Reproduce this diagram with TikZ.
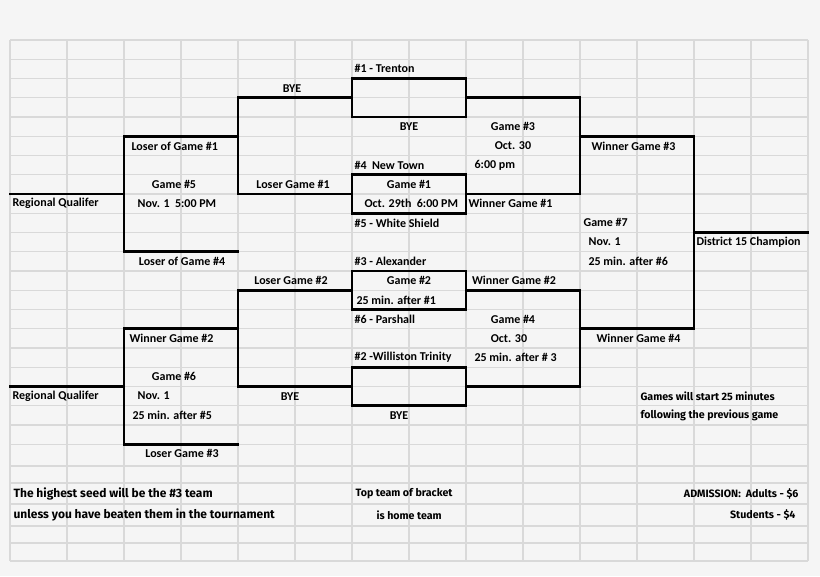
\documentclass[tikz,border=0pt]{standalone}
\usepackage{fontspec}
\setmainfont{Carlito}
\newfontfamily\handfont{Fira Sans}
\newcommand\ry[1]{{40+19.25*(#1)}}
\newcommand\rc[1]{{40+19.25*(#1+0.5)}}
\begin{document}
\begin{tikzpicture}[x=0.75pt,y=-0.75pt,
    brk/.style={line width=2.2pt,line cap=rect},
    lbl/.style={inner sep=1pt,font=\bfseries\fontsize{9}{10}\selectfont},
    lft/.style={lbl,anchor=west},
    note/.style={inner sep=1pt,anchor=west,font=\handfont\bfseries\fontsize{8}{10}\selectfont}]
    \fill[gray!8] (0,0) rectangle (820,576);
    \useasboundingbox (0,0) rectangle (820,576);
    % grid
    \foreach \k in {0,...,21}
        \draw[gray!30,line width=0.8pt] (10,\ry{\k}) -- (808,\ry{\k});
    \foreach \y in {466,483,504,526,543,561}
        \draw[gray!30,line width=0.8pt] (10,\y) -- (808,\y);
    \foreach \x in {10,67,...,808}
        \draw[gray!30,line width=0.8pt] (\x,40) -- (\x,561);
    % bracket
    \draw[brk] (352,\ry2) rectangle (466,\ry4);
    \draw[brk] (352,\ry7) rectangle (466,\ry9);
    \draw[brk] (352,\ry{12}) rectangle (466,\ry{14});
    \draw[brk] (352,\ry{17}) rectangle (466,\ry{19});
    \draw[brk] (352,\ry3) -- (238,\ry3) -- (238,\ry8) -- (352,\ry8);
    \draw[brk] (352,\ry{13}) -- (238,\ry{13}) -- (238,\ry{18}) -- (352,\ry{18});
    \draw[brk] (466,\ry3) -- (580,\ry3) -- (580,\ry8) -- (466,\ry8);
    \draw[brk] (466,\ry{13}) -- (580,\ry{13}) -- (580,\ry{18}) -- (466,\ry{18});
    \draw[brk] (238,\ry5) -- (124,\ry5) -- (124,\ry{11}) -- (238,\ry{11});
    \draw[brk] (238,\ry{15}) -- (124,\ry{15}) -- (124,\ry{21}) -- (238,\ry{21});
    \draw[brk] (10,\ry8) -- (124,\ry8);
    \draw[brk] (10,\ry{18}) -- (124,\ry{18});
    \draw[brk] (580,\ry5) -- (694,\ry5) -- (694,\ry{15}) -- (580,\ry{15});
    \draw[brk] (694,\ry{10}) -- (808,\ry{10});
    % labels
    \node[lft] (t1) at (353,\rc1) {\#1 - Trenton};
    \node[lbl] (bye1) at (292,\rc2) {BYE};
    \node[lbl] (bye2) at (409,\rc4) {BYE};
    \node[lbl] (g3) at (513,\rc4) {Game \#3};
    \node[lft] (lg1a) at (130,\rc5) {Loser of Game \#1};
    \node[lbl] (g3d) at (513,\rc5) {Oct. 30};
    \node[lft] (wg3) at (590,\rc5) {Winner Game \#3};
    \node[lft] (t4) at (353,\rc6) {\#4 \ New Town};
    \node[lft] (g3t) at (473,\rc6) {6:00 pm};
    \node[lbl] (g5) at (174,\rc7) {Game \#5};
    \node[lbl] (lg1b) at (293,\rc7) {Loser Game \#1};
    \node[lbl] (g1) at (409,\rc7) {Game \#1};
    \node[lft] (rq1) at (11,\rc8) {Regional Qualifer};
    \node[lft] (g5d) at (136,\rc8) {Nov. 1 \ 5:00 PM};
    \node[lft] (g1d) at (363,\rc8) {Oct. 29th \ 6:00 PM};
    \node[lft] (wg1) at (467,\rc8) {Winner Game \#1};
    \node[lft] (t5) at (353,\rc9) {\#5 - White Shield};
    \node[lft] (g7) at (582,\rc9) {Game \#7};
    \node[lft] (g7d) at (587,\rc{10}) {Nov. 1};
    \node[lft] (champ) at (695,\rc{10}) {District 15 Champion};
    \node[lbl] (lg4) at (182,\rc{11}) {Loser of Game \#4};
    \node[lft] (t3) at (353,\rc{11}) {\#3 - Alexander};
    \node[lft] (g7t) at (587,\rc{11}) {25 min. after \#6};
    \node[lbl] (lg2) at (291,\rc{12}) {Loser Game \#2};
    \node[lbl] (g2) at (409,\rc{12}) {Game \#2};
    \node[lbl] (wg2a) at (514,\rc{12}) {Winner Game \#2};
    \node[lft] (g2t) at (355,\rc{13}) {25 min. after \#1};
    \node[lft] (t6) at (353,\rc{14}) {\#6 - Parshall};
    \node[lbl] (g4) at (513,\rc{14}) {Game \#4};
    \node[lft] (wg2b) at (128,\rc{15}) {Winner Game \#2};
    \node[lbl] (g4d) at (509,\rc{15}) {Oct. 30};
    \node[lft] (wg4) at (595,\rc{15}) {Winner Game \#4};
    \node[lft] (t2) at (353,\rc{16}) {\#2 -Williston Trinity};
    \node[lft] (g4t) at (473,\rc{16}) {25 min. after \# 3};
    \node[lbl] (g6) at (174,\rc{17}) {Game \#6};
    \node[lft] (rq2) at (11,\rc{18}) {Regional Qualifer};
    \node[lft] (g6d) at (136,\rc{18}) {Nov. 1};
    \node[lbl] (bye3) at (290,\rc{18}) {BYE};
    \node[lft] (g6t) at (131,\rc{19}) {25 min. after \#5};
    \node[lbl] (bye4) at (399,\rc{19}) {BYE};
    \node[lbl] (lg3) at (182,\rc{21}) {Loser Game \#3};
    % notes
    \node[note] (n1) at (639,\rc{18}) {Games will start 25 minutes};
    \node[note] (n2) at (639,\rc{19}) {following the previous game};
    \node[note,font=\handfont\bfseries\fontsize{9}{11}\selectfont] (n3) at (12,494) {The highest seed will be the \#3 team};
    \node[note,font=\handfont\bfseries\fontsize{9}{11}\selectfont] (n4) at (12,515) {unless you have beaten them in the tournament};
    \node[note] (n5) at (354,494) {Top team of bracket};
    \node[note] (n6) at (375,515) {is home team};
    \node[note,anchor=east] (n7) at (800,494) {ADMISSION: \ Adults - \$6};
    \node[note,anchor=east] (n8) at (797,515) {Students - \$4};
\end{tikzpicture}
\end{document}
